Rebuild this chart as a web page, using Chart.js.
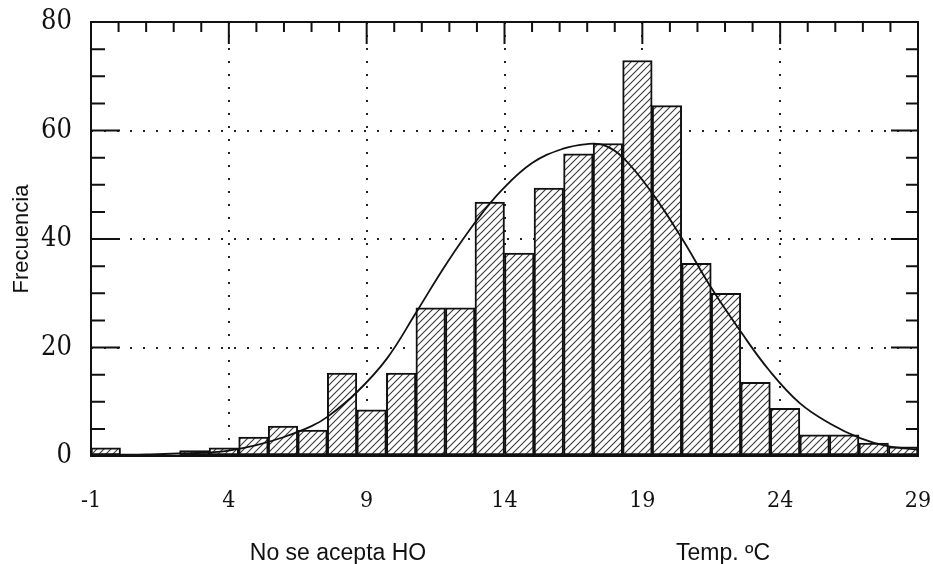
<!DOCTYPE html>
<html>
<head>
<meta charset="utf-8">
<script src="https://cdn.jsdelivr.net/npm/chart.js@4/dist/chart.umd.min.js"></script>
<style>
  body { margin: 0; background: #fff; }
  #wrap { width: 933px; height: 564px; }
</style>
</head>
<body>
<div id="wrap"><canvas id="histChart" width="933" height="564"></canvas></div>
<script>
// histogram: 28 bins from -1 to 29
const binStart = -1;
const binWidth = 30 / 28;
const binCounts = [1.5, 0, 0, 1, 1.5, 3.5, 5.5, 4.8, 15.3, 8.5, 15.3, 27.3, 27.3, 46.8,
                   37.4, 49.4, 55.7, 57.6, 72.9, 64.6, 35.5, 30, 13.6, 8.8, 3.9, 3.9, 2.4, 1.7];

// fitted curve
const curveX = [-1, 1, 3, 4, 5, 6, 7, 7.6, 8.65, 9.74, 10.8, 11.9, 13.0, 13.9,
                15.0, 16.1, 17.0, 17.6, 18.3, 19.35, 20.45, 21.5, 22.6, 23.6, 24.7,
                25.8, 26.9, 27.9, 29];
const curveY = [0.2, 0.3, 0.6, 1, 2, 3.5, 5.5, 7.3, 11.8, 18, 26.5, 35.5, 43.5, 49,
                54, 56.6, 57.5, 57.3, 55, 48.5, 40, 31, 22.7, 15.8, 9.8,
                6, 3.3, 1.8, 1.2];

const xTickValues = [-1, 4, 9, 14, 19, 24, 29];
const yTickValues = [0, 20, 40, 60, 80];

const tickFont = "'DejaVu Serif Condensed', 'DejaVu Serif', serif";
const textFont = "'Liberation Sans', Arial, sans-serif";

function makeHatch() {
    const c = document.createElement('canvas');
    c.width = 7;
    c.height = 7;
    const g = c.getContext('2d');
    g.fillStyle = '#fff';
    g.fillRect(0, 0, 7, 7);
    g.strokeStyle = '#3a3a3a';
    g.lineWidth = 1.1;
    g.beginPath();
    g.moveTo(0, 7); g.lineTo(7, 0);
    g.moveTo(-1, 1); g.lineTo(1, -1);
    g.moveTo(6, 8); g.lineTo(8, 6);
    g.stroke();
    return g.createPattern(c, 'repeat');
}

// frame box and inward tick marks
const frameTicks = {
    id: 'frameTicks',
    afterDatasetsDraw(chart) {
        const ctx = chart.ctx;
        const a = chart.chartArea;
        const x = chart.scales.x;
        const y = chart.scales.y;
        ctx.save();
        ctx.strokeStyle = '#111';
        ctx.lineWidth = 2;
        ctx.strokeRect(a.left, a.top, a.right - a.left, a.bottom - a.top);
        ctx.beginPath();
        for (let v = -1; v <= 29; v++) {
            const px = x.getPixelForValue(v);
            const len = xTickValues.includes(v) ? 22 : 10;
            ctx.moveTo(px, a.top);
            ctx.lineTo(px, a.top + len);
        }
        for (let v = 5; v < 80; v += 5) {
            const py = y.getPixelForValue(v);
            const major = v % 20 === 0;
            ctx.moveTo(a.left, py);
            ctx.lineTo(a.left + (major ? 29 : 14), py);
            ctx.moveTo(a.right, py);
            ctx.lineTo(a.right - (major ? 27 : 12), py);
        }
        ctx.stroke();
        ctx.restore();
    }
};

// notes under the chart
const bottomNotes = {
    id: 'bottomNotes',
    afterDraw(chart) {
        const ctx = chart.ctx;
        ctx.save();
        ctx.fillStyle = '#111';
        ctx.font = '23px ' + textFont;
        ctx.textAlign = 'center';
        ctx.textBaseline = 'alphabetic';
        ctx.fillText('No se acepta HO', 338, 560);
        ctx.fillText('Temp. ºC', 723, 560);
        ctx.restore();
    }
};

const hist = binCounts.map(function (v, i) {
    return { x: binStart + (i + 0.5) * binWidth, y: v };
});
const curve = curveX.map(function (v, i) {
    return { x: v, y: curveY[i] };
});

new Chart(document.getElementById('histChart'), {
    type: 'bar',
    data: {
        datasets: [{
            type: 'line',
            data: curve,
            borderColor: '#111',
            borderWidth: 1.8,
            pointRadius: 0,
            tension: 0.4,
            order: 0
        }, {
            type: 'bar',
            data: hist,
            backgroundColor: makeHatch(),
            borderColor: '#111',
            borderWidth: 2,
            borderSkipped: false,
            barPercentage: 1,
            categoryPercentage: 1,
            order: 1
        }]
    },
    options: {
        responsive: false,
        animation: false,
        layout: { padding: { top: 22, right: 15, left: 0, bottom: 0 } },
        plugins: { legend: { display: false }, tooltip: { enabled: false } },
        scales: {
            x: {
                type: 'linear',
                min: -1,
                max: 29,
                offset: false,
                afterBuildTicks: function (scale) {
                    scale.ticks = xTickValues.map(function (v) { return { value: v }; });
                },
                afterFit: function (scale) {
                    scale.height = 108;
                    scale.paddingLeft = 0;
                    scale.paddingRight = 0;
                },
                grid: { offset: false, color: '#222', lineWidth: 2, drawTicks: false },
                border: { display: false, dash: [2, 11] },
                ticks: {
                    color: '#111',
                    padding: 31,
                    maxRotation: 0,
                    autoSkip: false,
                    font: { family: tickFont, size: 23 }
                }
            },
            y: {
                min: 0,
                max: 80,
                afterBuildTicks: function (scale) {
                    scale.ticks = yTickValues.map(function (v) { return { value: v }; });
                },
                afterFit: function (scale) {
                    scale.width = 91;
                    scale.paddingTop = 0;
                    scale.paddingBottom = 0;
                },
                grid: { color: '#222', lineWidth: 2, drawTicks: false },
                border: { display: false, dash: [2, 11] },
                ticks: {
                    color: '#111',
                    padding: 19,
                    font: { family: tickFont, size: 27 }
                },
                title: {
                    display: true,
                    text: 'Frecuencia',
                    color: '#111',
                    padding: { top: 9, bottom: 0 },
                    font: { family: textFont, size: 22 }
                }
            }
        }
    },
    plugins: [frameTicks, bottomNotes]
});
</script>
</body>
</html>
